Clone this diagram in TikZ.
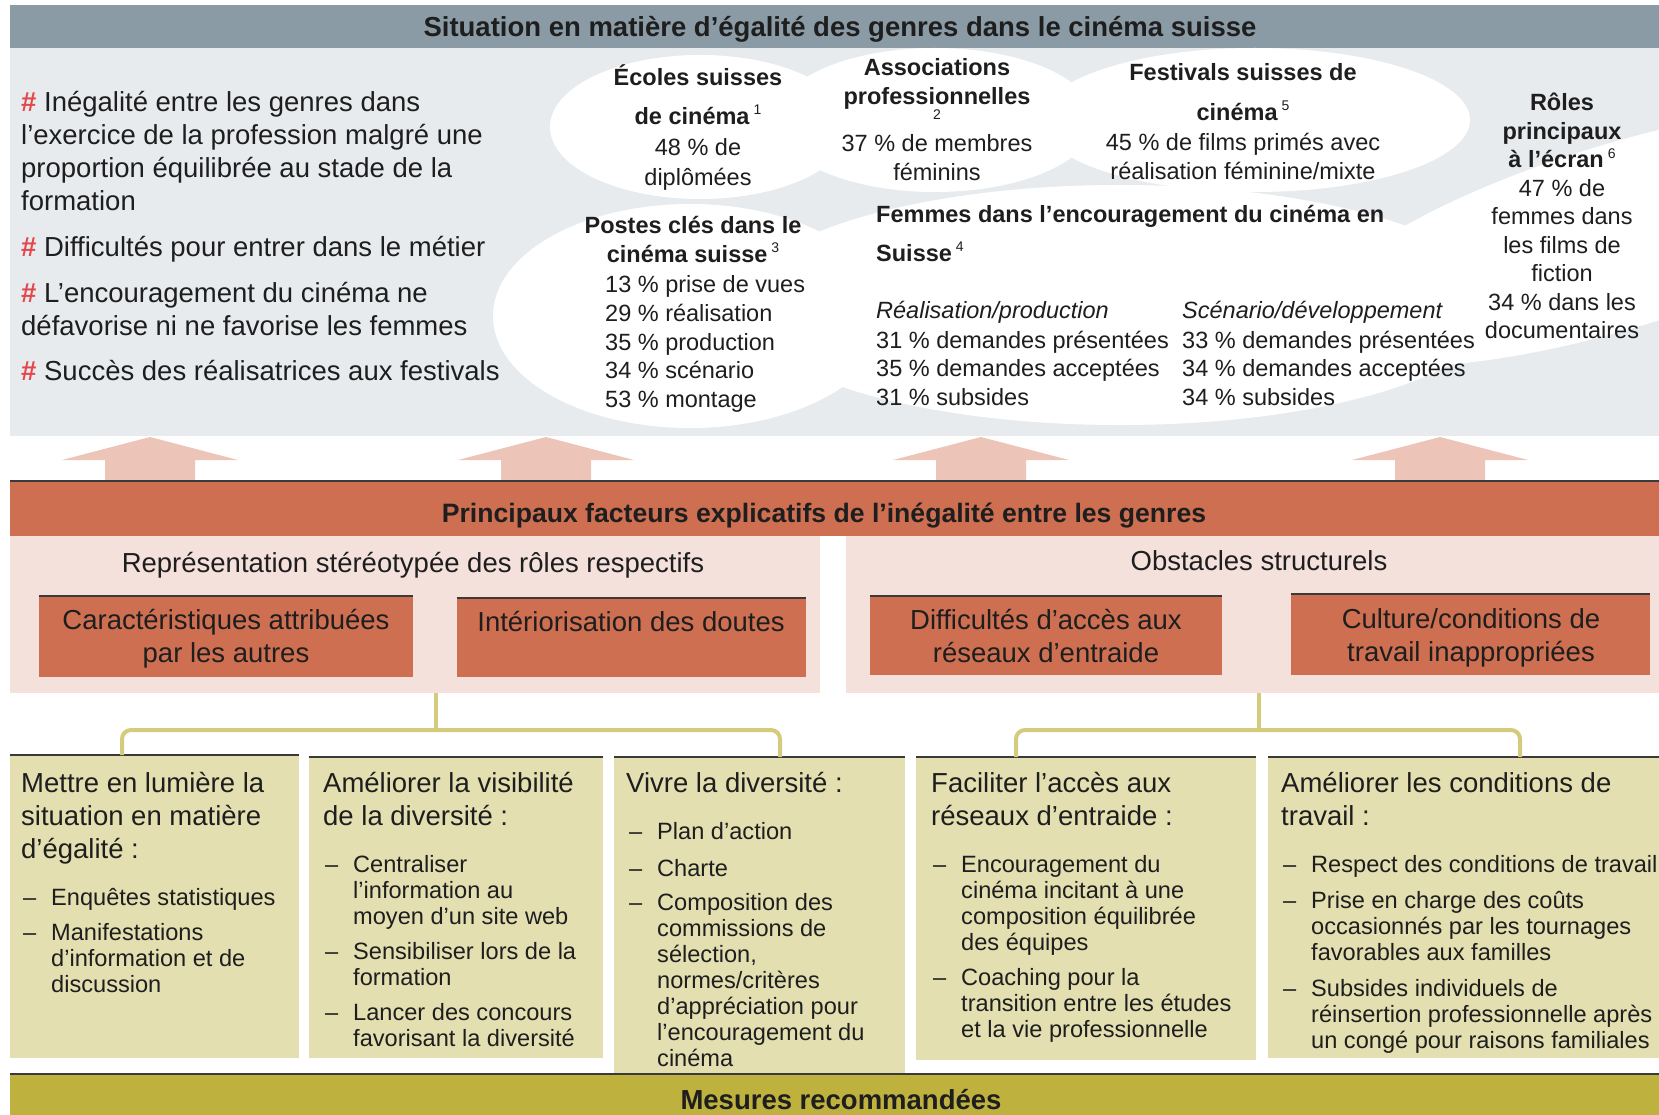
\documentclass[tikz,border=0pt]{standalone}
\usepackage{fontspec}
\setmainfont{Liberation Sans}
\usepackage{tikz}
\usetikzlibrary{positioning,calc}
\usepackage{xcolor}

\definecolor{hdblue}{HTML}{8A9BA6}
\definecolor{panelgray}{HTML}{E8EBEE}
\definecolor{arrowpink}{HTML}{EDC5B8}
\definecolor{terra}{HTML}{CF6F51}
\definecolor{pinkbg}{HTML}{F5E1DC}
\definecolor{oliveline}{HTML}{D4CB7C}
\definecolor{khaki}{HTML}{E3DFB1}
\definecolor{mesolive}{HTML}{BEB13E}
\definecolor{hashred}{HTML}{E2474C}
\definecolor{darkline}{HTML}{3A3A3A}
\definecolor{txt}{HTML}{1E1E1E}

\newcommand{\fHead}{\fontsize{27.5}{33}\selectfont\bfseries}
\newcommand{\fBody}{\fontsize{27.5}{33}\selectfont}
\newcommand{\fCloud}{\fontsize{23.5}{28.5}\selectfont}
\newcommand{\fItem}{\fontsize{23.6}{26}\selectfont}
\newcommand{\hashmark}{{\bfseries\color{hashred}\#}\ }
\newcommand{\supnum}[1]{\,\raisebox{0.42em}{\fontsize{14}{14}\selectfont\mdseries #1}}
\newcommand{\lblock}[1]{\begin{tabular}[t]{@{}l@{}}#1\end{tabular}}
\newcommand{\cblock}[1]{\begin{tabular}[t]{@{}c@{}}#1\end{tabular}}

\begin{document}
\begin{tikzpicture}[x=1pt, y=-1pt,
    every node/.style={inner sep=0pt, text=txt},
    block/.style={anchor=north west},
    txtl/.style={anchor=base west},
    txtc/.style={anchor=base},
    itemlist/.style={anchor=base west, font=\fItem},
    topline/.style={draw=darkline, line width=2pt},
    tree/.style={draw=oliveline, line width=4pt, rounded corners=9pt},
    upar/.style={fill=arrowpink}]
  \useasboundingbox (0,0) rectangle (1659,1115);

  % Situation
  \node[block, fill=hdblue, minimum width=1649, minimum height=43] (sitbar) at (10,5) {};
  \node[txtc, font=\fHead] (sittitle) at (840,37) {Situation en matière d’égalité des genres dans le cinéma suisse};
  \node[block, fill=panelgray, minimum width=1649, minimum height=388] (sitpanel) at (10,48) {};

  % Clouds
  \begin{scope}
    \clip (10,48) rectangle (1659,436);
    \fill[white] (700,127) ellipse [x radius=150pt, y radius=72pt];
    \fill[white] (935,120) ellipse [x radius=160pt, y radius=72pt];
    \fill[white] (1255,120) ellipse [x radius=215pt, y radius=72pt];
    \fill[white] (690,316) ellipse [x radius=197pt, y radius=112pt];
    \fill[white] (1120,305) ellipse [x radius=380pt, y radius=120pt];
    \fill[white, rotate around={17:(1620,236)}] (1620,236) ellipse [x radius=330pt, y radius=92pt];
  \end{scope}

  % Findings
  \node[txtl, font=\fBody] (ineg) at (21,112) {\lblock{\hashmark Inégalité entre les genres dans\\ l’exercice de la profession malgré une\\ proportion équilibrée au stade de la\\ formation}};
  \node[txtl, font=\fBody] (entrer) at (21,257) {\hashmark Difficultés pour entrer dans le métier};
  \node[txtl, font=\fBody] (encour) at (21,302) {\lblock{\hashmark L’encouragement du cinéma ne\\ défavorise ni ne favorise les femmes}};
  \node[txtl, font=\fBody] (succes) at (21,380) {\hashmark Succès des réalisatrices aux festivals};

  % Cloud texts
  \node[txtc, font=\fCloud] (ecoles) at (698,86) {\cblock{\textbf{Écoles suisses}\\[10pt] \textbf{de cinéma}\supnum{1}\\[3pt] 48 \% de\\[1pt] diplômées}};
  \node[txtc, font=\fCloud\bfseries] (assoc) at (937,76) {\cblock{Associations\\ professionnelles}};
  \node[txtc, font=\fontsize{14}{14}\selectfont] (assocref) at (937,120) {2};
  \node[txtc, font=\fCloud] (assocval) at (937,152) {\cblock{37 \% de membres\\ féminins}};
  \node[txtc, font=\fCloud] (festiv) at (1243,81) {\cblock{\textbf{Festivals suisses de}\\[11pt] \textbf{cinéma}\supnum{5}\\[2pt] 45 \% de films primés avec\\ réalisation féminine/mixte}};
  \node[txtc, font=\fCloud\bfseries] (postes) at (693,234) {\cblock{Postes clés dans le\\ cinéma suisse\supnum{3}}};
  \node[txtl, font=\fCloud] (postesval) at (605,293) {\lblock{13 \% prise de vues\\ 29 \% réalisation\\ 35 \% production\\ 34 \% scénario\\ 53 \% montage}};
  \node[txtl, font=\fCloud\bfseries] (femmes) at (876,223) {\lblock{Femmes dans l’encouragement du cinéma en\\[10pt] Suisse\supnum{4}}};
  \node[txtl, font=\fCloud] (realprod) at (876,318) {\lblock{\textit{Réalisation/production}\\[1.5pt] 31 \% demandes présentées\\ 35 \% demandes acceptées\\ 31 \% subsides}};
  \node[txtl, font=\fCloud] (scenar) at (1182,318) {\lblock{\textit{Scénario/développement}\\[1.5pt] 33 \% demandes présentées\\ 34 \% demandes acceptées\\ 34 \% subsides}};
  \node[txtc, font=\fCloud] (roles) at (1562,111) {\cblock{\textbf{Rôles}\\ \textbf{principaux}\\ \textbf{à l’écran}\supnum{6}\\ 47 \% de\\ femmes dans\\ les films de\\ fiction\\ 34 \% dans les\\ documentaires}};

  % Up arrows
  \foreach \ax in {150,546,981,1440}
    \fill[upar] (\ax-45,481) -- (\ax-45,460) -- (\ax-88,460) -- (\ax,437)
      -- (\ax+88,460) -- (\ax+45,460) -- (\ax+45,481) -- cycle;

  % Factors
  \node[block, fill=terra, minimum width=1649, minimum height=55] (factbar) at (10,481) {};
  \node[txtc, font=\fontsize{26.6}{32}\selectfont\bfseries] (facttitle) at (824,522) {Principaux facteurs explicatifs de l’inégalité entre les genres};
  \node[block, fill=pinkbg, minimum width=810, minimum height=157] (stereo) at (10,536) {};
  \node[block, fill=pinkbg, minimum width=813, minimum height=157] (struct) at (846,536) {};
  \node[txtc, font=\fBody] (stereotxt) at (413,572) {Représentation stéréotypée des rôles respectifs};
  \node[txtc, font=\fBody] (structtxt) at (1259,570) {Obstacles structurels};

  \node[block, fill=terra, minimum width=374, minimum height=81] (caract) at (39,596) {};
  \node[block, fill=terra, minimum width=349, minimum height=79] (interior) at (457,598) {};
  \node[block, fill=terra, minimum width=352, minimum height=79] (reseaux) at (870,596) {};
  \node[block, fill=terra, minimum width=359, minimum height=81] (culture) at (1291,594) {};
  \node[txtc, font=\fBody] (caracttxt) at (226,629) {\cblock{Caractéristiques attribuées\\ par les autres}};
  \node[txtc, font=\fBody] (interiortxt) at (631,631) {Intériorisation des doutes};
  \node[txtc, font=\fBody] (reseauxtxt) at (1046,629) {\cblock{Difficultés d’accès aux\\ réseaux d’entraide}};
  \node[txtc, font=\fBody] (culturetxt) at (1471,628) {\cblock{Culture/conditions de\\ travail inappropriées}};

  % Measures
  \node[block, fill=khaki, minimum width=289, minimum height=303] (m1) at (10,755) {};
  \node[block, fill=khaki, minimum width=294, minimum height=301] (m2) at (309,757) {};
  \node[block, fill=khaki, minimum width=291, minimum height=317] (m3) at (614,757) {};
  \node[block, fill=khaki, minimum width=340, minimum height=303] (m4) at (916,757) {};
  \node[block, fill=khaki, minimum width=391, minimum height=301] (m5) at (1268,757) {};

  \node[txtl, font=\fBody] (t1) at (21,792) {\lblock{Mettre en lumière la\\ situation en matière\\ d’égalité :}};
  \node[txtl, font=\fBody] (t2) at (323,792) {\lblock{Améliorer la visibilité\\ de la diversité :}};
  \node[txtl, font=\fBody] (t3) at (626,792) {Vivre la diversité :};
  \node[txtl, font=\fBody] (t4) at (931,792) {\lblock{Faciliter l’accès aux\\ réseaux d’entraide :}};
  \node[txtl, font=\fBody] (t5) at (1281,792) {\lblock{Améliorer les conditions de\\ travail :}};

  \node[itemlist] (i1) at (23,905) {\begin{tabular}[t]{@{}p{28pt}@{}l@{}}
    –& Enquêtes statistiques\\[9pt]
    –& Manifestations\\ & d’information et de\\ & discussion
  \end{tabular}};
  \node[itemlist] (i2) at (325,872) {\begin{tabular}[t]{@{}p{28pt}@{}l@{}}
    –& Centraliser\\ & l’information au\\ & moyen d’un site web\\[9pt]
    –& Sensibiliser lors de la\\ & formation\\[9pt]
    –& Lancer des concours\\ & favorisant la diversité
  \end{tabular}};
  \node[itemlist] (i3) at (629,839) {\begin{tabular}[t]{@{}p{28pt}@{}l@{}}
    –& Plan d’action\\[11pt]
    –& Charte\\[8pt]
    –& Composition des\\ & commissions de\\ & sélection,\\ & normes/critères\\ & d’appréciation pour\\ & l’encouragement du\\ & cinéma
  \end{tabular}};
  \node[itemlist] (i4) at (933,872) {\begin{tabular}[t]{@{}p{28pt}@{}l@{}}
    –& Encouragement du\\ & cinéma incitant à une\\ & composition équilibrée\\ & des équipes\\[9pt]
    –& Coaching pour la\\ & transition entre les études\\ & et la vie professionnelle
  \end{tabular}};
  \node[itemlist] (i5) at (1283,872) {\begin{tabular}[t]{@{}p{28pt}@{}l@{}}
    –& Respect des conditions de travail\\[10pt]
    –& Prise en charge des coûts\\ & occasionnés par les tournages\\ & favorables aux familles\\[10pt]
    –& Subsides individuels de\\ & réinsertion professionnelle après\\ & un congé pour raisons familiales
  \end{tabular}};

  \node[block, fill=mesolive, minimum width=1649, minimum height=41] (mesbar) at (10,1074) {};
  \node[txtc, font=\fHead] (mestitle) at (841,1109) {Mesures recommandées};

  % Dark top edges
  \foreach \b in {factbar,caract,interior,reseaux,culture,m1,m2,m3,m4,m5,mesbar}
    \draw[topline] (\b.north west) -- (\b.north east);

  % Links to the measures
  \coordinate (lj) at (436,730);
  \coordinate (rj) at (1259,730);
  \coordinate (d1) at (122,730);
  \coordinate (d3) at (780,730);
  \coordinate (d4) at (1016,730);
  \coordinate (d5) at (1520,730);
  \draw[tree] (stereo.south -| lj) -- (lj);
  \draw[tree] (m1.north -| d1) |- (lj) -| (m3.north -| d3);
  \draw[tree] (struct.south -| rj) -- (rj);
  \draw[tree] (m4.north -| d4) |- (rj) -| (m5.north -| d5);
\end{tikzpicture}
\end{document}
